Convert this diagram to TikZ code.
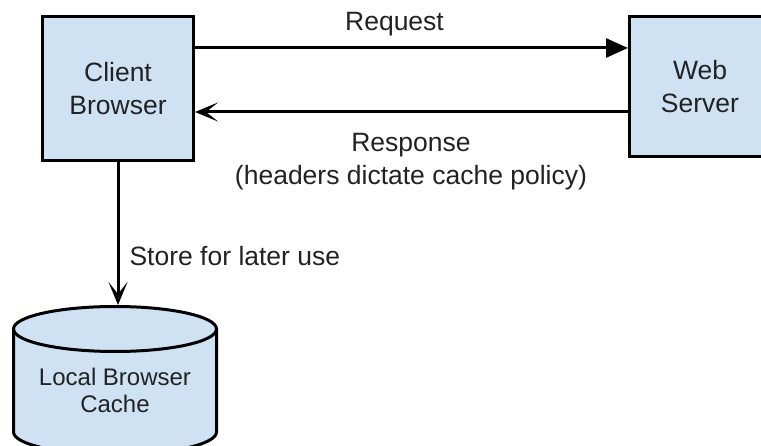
\documentclass[tikz,border=0pt]{standalone}
\usepackage{fontspec}
\setmainfont{Liberation Sans}
\usepackage{tikz}
\usetikzlibrary{calc,positioning,arrows.meta}
\definecolor{boxblue}{HTML}{CFE2F3}
\definecolor{labelgray}{HTML}{222222}
\tikzset{
  box/.style = {draw, line width=3pt, fill=boxblue, align=center, text=labelgray,
    font=\fontsize{26.5}{33}\selectfont},
  lbl/.style = {align=center, text=labelgray, font=\fontsize{26.5}{33}\selectfont},
  fwd/.style = {line width=3pt, -{Triangle[length=22pt,width=19pt]}},
  back/.style = {line width=3pt, -{Stealth[length=23pt,width=19pt,inset=12pt]}}
}

\begin{document}
\begin{tikzpicture}[x=1pt,y=1pt]
\useasboundingbox (0,0) rectangle (761,-446);
%\draw[help lines] (0,0) grid[step=50] (761,-446);
\node[box, minimum width=151pt, minimum height=144pt] (client) at (118,-88.5) {Client\\Browser};
\node[box, minimum width=141pt, minimum height=140pt] (server) at (700,-86.5) {Web\\Server};

% cache cylinder
\draw[line width=3pt, fill=boxblue] (13.5,-329) -- (13.5,-432)
  arc[start angle=180, end angle=360, x radius=101.5, y radius=22.5] -- (216.5,-329)
  arc[start angle=0, end angle=180, x radius=101.5, y radius=22.5] -- cycle;
\draw[line width=3pt] (13.5,-329) arc[start angle=180, end angle=360, x radius=101.5, y radius=22.5];
\coordinate (cachetop) at (118,-305);
\node[lbl, font=\fontsize{24}{27}\selectfont] (cache) at (115,-390) {Local Browser\\Cache};

\draw[fwd] ([yshift=40.5pt]client.east) -- ([yshift=40.5pt]client.east -| server.west);
\draw[back] ([yshift=-23.5pt]client.east -| server.west) -- ([yshift=-23.5pt]client.east);
\draw[back] (client.south) -- (cachetop);

\node[lbl] (request) at (394.5,-24) {Request};
\node[lbl] (response) at (411,-162) {Response\\(headers dictate cache policy)};
\node[lbl, anchor=west] (store) at (126,-256) {Store for later use};
\end{tikzpicture}
\end{document}
